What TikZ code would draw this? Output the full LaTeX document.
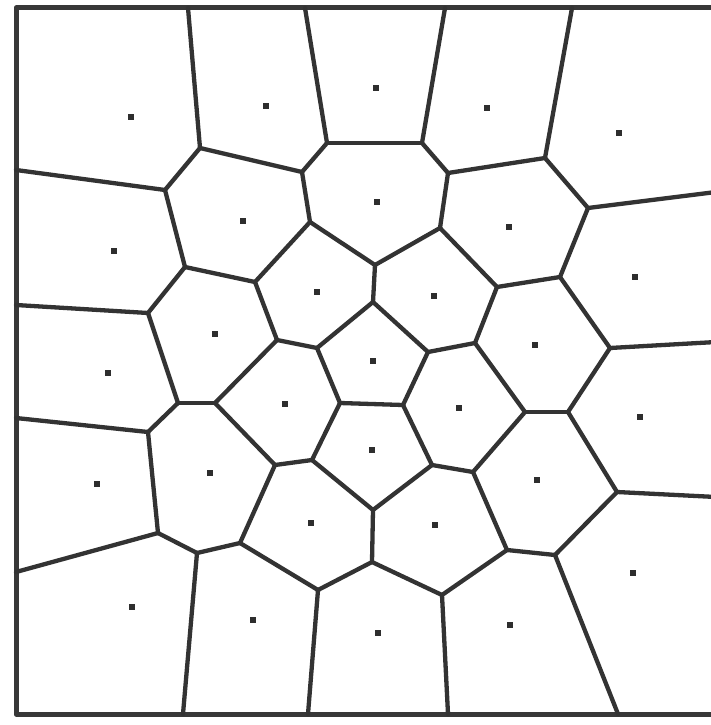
\documentclass[tikz,border=0pt]{standalone}
\begin{document}
\begin{tikzpicture}[x=1pt,y=-1pt,
  edge/.style={draw=black!80, line width=4.3pt, line cap=round, line join=round},
  frame/.style={draw=black!78, line width=5pt, line cap=round, line join=round},
  seed/.style={rectangle, fill=black!82, inner sep=0pt, minimum size=6.5pt}]
\useasboundingbox (0,0) rectangle (710,725);
% border points
\coordinate (tl) at (16,8); \coordinate (tr) at (716,8);
\coordinate (bl) at (16,714); \coordinate (br) at (716,714);
\coordinate (t1) at (188,8); \coordinate (t2) at (305,8);
\coordinate (t3) at (445,8); \coordinate (t4) at (572,8);
\coordinate (l1) at (16,170); \coordinate (l2) at (16,305);
\coordinate (l3) at (16,418); \coordinate (l4) at (16,572);
\coordinate (r1) at (716,192); \coordinate (r2) at (716,342);
\coordinate (r3) at (716,497);
\coordinate (b1) at (183,714); \coordinate (b2) at (308,714);
\coordinate (b3) at (448,714); \coordinate (b4) at (618,714);
% vertices
\coordinate (A) at (200,148); \coordinate (B) at (327,143);
\coordinate (C) at (165,190); \coordinate (D) at (302,172);
\coordinate (E) at (310,222); \coordinate (F) at (185,267);
\coordinate (G) at (255,282); \coordinate (H) at (148,313);
\coordinate (I) at (277,340); \coordinate (J) at (317,348);
\coordinate (K) at (422,143); \coordinate (L) at (545,158);
\coordinate (M) at (448,173); \coordinate (N) at (588,208);
\coordinate (O) at (440,228); \coordinate (P) at (375,265);
\coordinate (Q) at (373,302); \coordinate (R) at (428,352);
\coordinate (S) at (497,287); \coordinate (T) at (560,277);
\coordinate (U) at (610,348); \coordinate (V) at (475,343);
\coordinate (W) at (178,403); \coordinate (X) at (215,403);
\coordinate (Y) at (148,432); \coordinate (Z) at (275,465);
\coordinate (AA) at (312,460); \coordinate (BB) at (340,403);
\coordinate (AB) at (158,533); \coordinate (AC) at (197,553);
\coordinate (AD) at (240,543); \coordinate (AE) at (318,590);
\coordinate (CC) at (403,405); \coordinate (DD) at (525,412);
\coordinate (EE) at (568,412); \coordinate (FF) at (432,465);
\coordinate (GG) at (473,472); \coordinate (HH) at (617,492);
\coordinate (II) at (555,555); \coordinate (JJ) at (507,550);
\coordinate (KK) at (373,510); \coordinate (LL) at (372,562);
\coordinate (MM) at (442,595);
% frame
\draw[frame] (tr) -- (tl) -- (bl) -- (br);
% edges
\foreach \a/\b in {t1/A,t2/B,t3/K,t4/L,l1/C,l2/H,l3/Y,l4/AB,r1/N,r2/U,r3/HH,b1/AC,b2/AE,b3/MM,b4/II,
  A/C,A/D,D/B,B/K,D/E,C/F,F/G,G/E,E/P,H/F,H/W,G/I,I/J,J/Q,I/X,J/BB,
  K/M,M/L,L/N,M/O,O/P,P/Q,Q/R,O/S,S/T,T/N,T/U,S/V,R/V,R/CC,V/DD,U/EE,
  W/X,W/Y,X/Z,Z/AA,AA/BB,BB/CC,AA/KK,Y/AB,AB/AC,AC/AD,AD/Z,AD/AE,AE/LL,
  CC/FF,FF/GG,GG/DD,DD/EE,EE/HH,HH/II,GG/JJ,JJ/II,FF/KK,KK/LL,LL/MM,MM/JJ}
  \draw[edge] (\a) -- (\b);
% seeds
\foreach \x/\y [count=\i] in {131/117,266/106,376/88,487/108,619/133,114/251,243/221,377/202,509/227,
  317/292,215/334,635/277,434/296,535/345,373/361,108/373,285/404,459/408,640/417,
  97/484,210/473,372/450,537/480,311/523,435/525,633/573,132/607,253/620,378/633,510/625}
  \node[seed] (s\i) at (\x,\y) {};
\end{tikzpicture}
\end{document}
